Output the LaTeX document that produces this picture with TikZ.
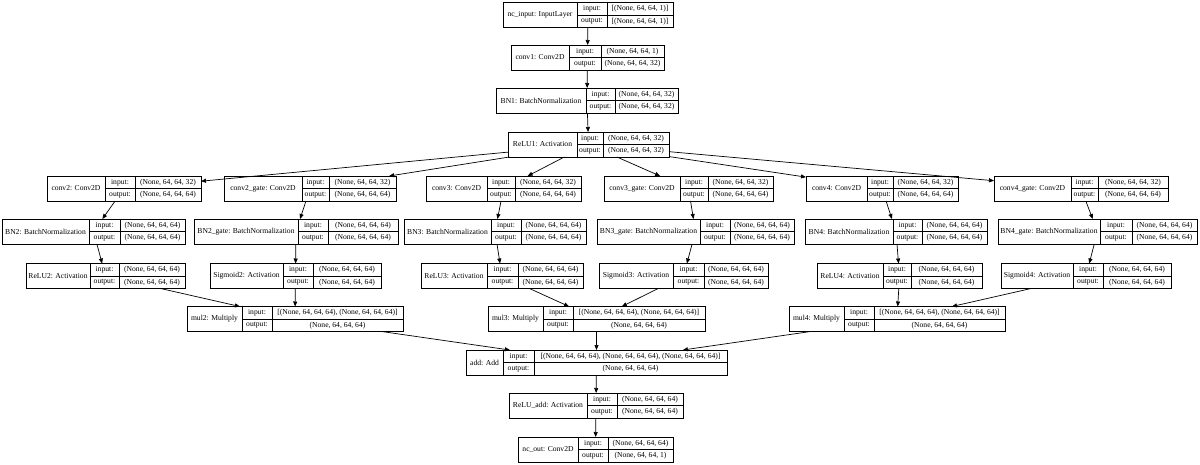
\documentclass[tikz,border=0pt]{standalone}
\usepackage{fontspec}
\setmainfont{Liberation Serif}
\usetikzlibrary{arrows.meta,fit}
\tikzset{
  layerbox/.style={draw, line width=0.7pt, inner sep=0pt, outer sep=0pt, rectangle},
  cell/.style={draw, line width=0.7pt},
  txt/.style={inner sep=0pt, font=\fontsize{7.6}{9}\selectfont},
  edge/.style={-{Triangle[length=5pt,width=4pt]}, line width=0.7pt}
}
% #1 name, #2 left, #3 d1, #4 d2, #5 right, #6 top, #7 title, #8 input, #9 output
\newcommand\keraslayer[9]{%
  \node[layerbox, fit={({#2},{#6}) ({#5},{#6+25})}] (#1) {};
  \draw[cell] ({#3},{#6}) -- ({#3},{#6+25});
  \draw[cell] ({#4},{#6}) -- ({#4},{#6+25});
  \draw[cell] ({#3},{#6+12.5}) -- ({#5},{#6+12.5});
  \node[txt] (#1-title) at ({(#2+#3)/2},{#6+12.5}) {#7};
  \node[txt] (#1-inl) at ({(#3+#4)/2},{#6+6.5}) {input:};
  \node[txt] (#1-outl) at ({(#3+#4)/2},{#6+18.8}) {output:};
  \node[txt] (#1-inv) at ({(#4+#5)/2},{#6+6.5}) {#8};
  \node[txt] (#1-outv) at ({(#4+#5)/2},{#6+18.8}) {#9};
}
\begin{document}
\begin{tikzpicture}[x=1pt,y=-1pt]
\useasboundingbox (0,0) rectangle (1200,464);
\keraslayer{ncin}{503}{577}{607}{673}{2.5}{nc\_input: InputLayer}{[(None, 64, 64, 1)]}{[(None, 64, 64, 1)]}
\keraslayer{conv1}{511}{569}{601}{664}{45}{conv1: Conv2D}{(None, 64, 64, 1)}{(None, 64, 64, 32)}
\keraslayer{bn1}{496}{586}{615}{678}{88}{BN1: BatchNormalization}{(None, 64, 64, 32)}{(None, 64, 64, 32)}
\keraslayer{relu1}{508}{577}{603}{669}{132}{ReLU1: Activation}{(None, 64, 64, 32)}{(None, 64, 64, 32)}
\keraslayer{conv2}{47}{105}{135}{201}{176}{conv2: Conv2D}{(None, 64, 64, 32)}{(None, 64, 64, 64)}
\keraslayer{conv2g}{224}{302}{329}{396}{176}{conv2\_gate: Conv2D}{(None, 64, 64, 32)}{(None, 64, 64, 64)}
\keraslayer{conv3}{426}{487}{515}{581}{176}{conv3: Conv2D}{(None, 64, 64, 32)}{(None, 64, 64, 64)}
\keraslayer{conv3g}{604}{680}{708}{773}{176}{conv3\_gate: Conv2D}{(None, 64, 64, 32)}{(None, 64, 64, 64)}
\keraslayer{conv4}{806}{867}{893}{958}{176}{conv4: Conv2D}{(None, 64, 64, 32)}{(None, 64, 64, 64)}
\keraslayer{conv4g}{994}{1071}{1098}{1168}{176}{conv4\_gate: Conv2D}{(None, 64, 64, 32)}{(None, 64, 64, 64)}
\keraslayer{bn2}{2}{89}{120}{185}{219}{BN2: BatchNormalization}{(None, 64, 64, 64)}{(None, 64, 64, 64)}
\keraslayer{bn2g}{194}{298}{328}{398}{219}{BN2\_gate: BatchNormalization}{(None, 64, 64, 64)}{(None, 64, 64, 64)}
\keraslayer{bn3}{404}{491}{521}{586}{219}{BN3: BatchNormalization}{(None, 64, 64, 64)}{(None, 64, 64, 64)}
\keraslayer{bn3g}{597}{700}{730}{794}{219}{BN3\_gate: BatchNormalization}{(None, 64, 64, 64)}{(None, 64, 64, 64)}
\keraslayer{bn4}{805}{893}{922}{987}{219}{BN4: BatchNormalization}{(None, 64, 64, 64)}{(None, 64, 64, 64)}
\keraslayer{bn4g}{998}{1100}{1132}{1197}{219}{BN4\_gate: BatchNormalization}{(None, 64, 64, 64)}{(None, 64, 64, 64)}
\keraslayer{relu2}{26}{90}{119}{185}{263.5}{ReLU2: Activation}{(None, 64, 64, 64)}{(None, 64, 64, 64)}
\keraslayer{sig2}{210}{283}{313}{381}{263.5}{Sigmoid2: Activation}{(None, 64, 64, 64)}{(None, 64, 64, 64)}
\keraslayer{relu3}{421}{487}{518}{583}{263.5}{ReLU3: Activation}{(None, 64, 64, 64)}{(None, 64, 64, 64)}
\keraslayer{sig3}{599}{673}{704}{768}{263.5}{Sigmoid3: Activation}{(None, 64, 64, 64)}{(None, 64, 64, 64)}
\keraslayer{relu4}{817}{883}{911}{982}{263.5}{ReLU4: Activation}{(None, 64, 64, 64)}{(None, 64, 64, 64)}
\keraslayer{sig4}{1001}{1073}{1103}{1171}{263.5}{Sigmoid4: Activation}{(None, 64, 64, 64)}{(None, 64, 64, 64)}
\keraslayer{mul2}{187}{242}{272}{403}{306.5}{mul2: Multiply}{[(None, 64, 64, 64), (None, 64, 64, 64)]}{(None, 64, 64, 64)}
\keraslayer{mul3}{488}{543}{573}{705}{306.5}{mul3: Multiply}{[(None, 64, 64, 64), (None, 64, 64, 64)]}{(None, 64, 64, 64)}
\keraslayer{mul4}{789}{844}{874}{1005}{306.5}{mul4: Multiply}{[(None, 64, 64, 64), (None, 64, 64, 64)]}{(None, 64, 64, 64)}
\keraslayer{add}{466}{503}{534}{727}{350}{add: Add}{[(None, 64, 64, 64), (None, 64, 64, 64), (None, 64, 64, 64)]}{(None, 64, 64, 64)}
\keraslayer{reluadd}{509}{587}{617}{683}{393}{ReLU\_add: Activation}{(None, 64, 64, 64)}{(None, 64, 64, 64)}
\keraslayer{ncout}{518}{578}{608}{673}{437}{nc\_out: Conv2D}{(None, 64, 64, 64)}{(None, 64, 64, 1)}
% edges
\draw[edge] (ncin) -- (conv1);
\draw[edge] (conv1) -- (bn1);
\draw[edge] (bn1) -- (relu1);
\foreach \t in {conv2,conv2g,conv3,conv3g,conv4,conv4g}
  \draw[edge] (relu1) -- (\t);
\draw[edge] (conv2) -- (bn2);
\draw[edge] (bn2) -- (relu2);
\draw[edge] (relu2) -- (mul2);
\draw[edge] (conv2g) -- (bn2g);
\draw[edge] (bn2g) -- (sig2);
\draw[edge] (sig2) -- (mul2);
\draw[edge] (conv3) -- (bn3);
\draw[edge] (bn3) -- (relu3);
\draw[edge] (relu3) -- (mul3);
\draw[edge] (conv3g) -- (bn3g);
\draw[edge] (bn3g) -- (sig3);
\draw[edge] (sig3) -- (mul3);
\draw[edge] (conv4) -- (bn4);
\draw[edge] (bn4) -- (relu4);
\draw[edge] (relu4) -- (mul4);
\draw[edge] (conv4g) -- (bn4g);
\draw[edge] (bn4g) -- (sig4);
\draw[edge] (sig4) -- (mul4);
\draw[edge] (mul2) -- (add);
\draw[edge] (mul3) -- (add);
\draw[edge] (mul4) -- (add);
\draw[edge] (add) -- (reluadd);
\draw[edge] (reluadd) -- (ncout);
\end{tikzpicture}
\end{document}
